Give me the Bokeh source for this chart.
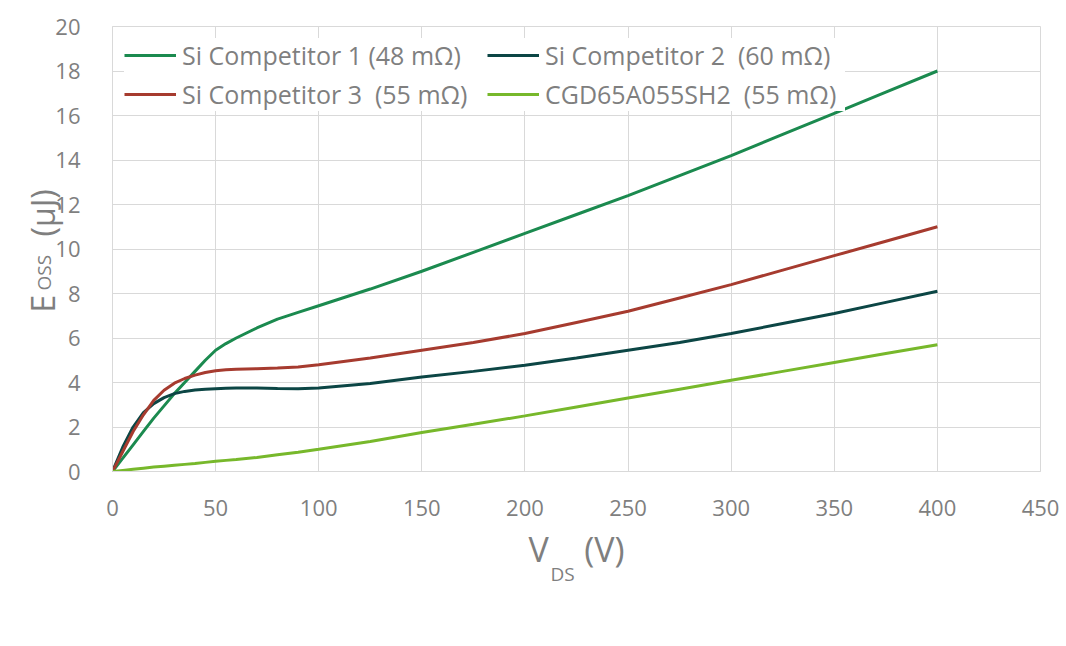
import math
from bokeh.plotting import figure
from bokeh.models import Range1d, Legend, LegendItem, Label, FixedTicker
from bokeh.embed import file_html
from bokeh.resources import INLINE

# ---- data ----
vds = [0, 5, 10, 15, 20, 25, 30, 35, 40, 45, 50, 55, 60, 70, 80, 90, 100,
       125, 150, 175, 200, 225, 250, 275, 300, 325, 350, 375, 400]
si1 = [0, 0.6, 1.2, 1.8, 2.4, 2.95, 3.5, 4.0, 4.5, 5.0, 5.45, 5.75, 6.0, 6.45, 6.85, 7.15, 7.45,
       8.2, 9.0, 9.85, 10.7, 11.55, 12.4, 13.3, 14.2, 15.15, 16.1, 17.05, 18.0]
si2 = [0, 1.1, 2.0, 2.65, 3.05, 3.32, 3.5, 3.6, 3.66, 3.7, 3.72, 3.74, 3.75, 3.75, 3.73, 3.72, 3.75,
       3.95, 4.25, 4.5, 4.78, 5.1, 5.45, 5.8, 6.2, 6.65, 7.1, 7.6, 8.1]
si3 = [0, 0.9, 1.8, 2.55, 3.2, 3.65, 3.97, 4.18, 4.33, 4.45, 4.53, 4.57, 4.6, 4.62, 4.65, 4.7, 4.8,
       5.1, 5.45, 5.8, 6.2, 6.7, 7.2, 7.8, 8.4, 9.05, 9.7, 10.35, 11.0]
cgd = [0, 0.05, 0.1, 0.15, 0.2, 0.24, 0.28, 0.32, 0.36, 0.41, 0.46, 0.5, 0.54, 0.63, 0.75, 0.87, 1.0,
       1.35, 1.75, 2.12, 2.5, 2.9, 3.3, 3.7, 4.1, 4.5, 4.9, 5.3, 5.7]

names = ["Si Competitor 1 (48 mΩ)", "Si Competitor 2  (60 mΩ)",
         "Si Competitor 3  (55 mΩ)", "CGD65A055SH2  (55 mΩ)"]
colors = ["#1b8a4f", "#0c4645", "#a63b2f", "#77b82b"]
series = [si1, si2, si3, cgd]

x_ticks = [0, 50, 100, 150, 200, 250, 300, 350, 400, 450]
y_ticks = [0, 2, 4, 6, 8, 10, 12, 14, 16, 18, 20]

FONT = "Open Sans"
GREY = "#7f7f7f"
GRID = "#d9d9d9"
NB = "\u00a0"

p = figure(width=1066, frame_height=445, output_backend="svg", toolbar_location=None,
           x_range=Range1d(0, 450), y_range=Range1d(0, 20),
           min_border_left=112, min_border_right=21, min_border_top=18, min_border_bottom=175)
p.outline_line_color = GRID
p.background_fill_color = "white"

for ax, ticks in ((p.xaxis[0], x_ticks), (p.yaxis[0], y_ticks)):
    ax.ticker = FixedTicker(ticks=ticks)
    ax.axis_line_color = GRID
    ax.axis_line_width = 1
    ax.major_tick_line_color = None
    ax.minor_tick_line_color = None
    ax.major_label_text_font = FONT
    ax.major_label_text_font_size = "22px"
    ax.major_label_text_color = GREY
p.xaxis.major_label_standoff = 22
p.yaxis.major_label_standoff = 26

# x title (main part; the subscript is a separate label)
p.xaxis.axis_label = "V" + NB * 4 + "(V)"
p.xaxis.axis_label_text_font = FONT
p.xaxis.axis_label_text_font_size = "34px"
p.xaxis.axis_label_text_font_style = "normal"
p.xaxis.axis_label_text_color = GREY
p.xaxis.axis_label_standoff = 7

p.xgrid.grid_line_color = GRID
p.ygrid.grid_line_color = GRID
p.xgrid.ticker = FixedTicker(ticks=x_ticks)
p.ygrid.ticker = FixedTicker(ticks=y_ticks)

renderers = []
for ys, c in zip(series, colors):
    r = p.line(vds, ys, line_color=c, line_width=3)
    renderers.append(r)

order = [0, 2, 1, 3]
items = [LegendItem(label=names[i], renderers=[renderers[i]]) for i in order]
legend = Legend(items=items, ncols=2, location="top_left",
                glyph_width=52, glyph_height=20, label_height=20, label_width=300,
                label_standoff=6, spacing=5, padding=4, margin=12,
                border_line_color=None, background_fill_color="white", background_fill_alpha=1,
                label_text_font=FONT, label_text_font_size="25px",
                label_text_color=GREY)
p.add_layout(legend, "center")

def lab(text, px, py, size, side, angle=0):
    p.add_layout(Label(x=px, y=py, x_units="canvas", y_units="canvas", text=text, text_font=FONT,
                       text_font_size=size, text_color=GREY, angle=angle,
                       text_baseline="alphabetic", text_align="left"), side)

lab("E" + NB * 7 + "(μJ)", 42, 312, "32px", "left", math.pi / 2)
lab("OSS", 43, 290, "19px", "right", math.pi / 2)
lab("DS", 550, 573, "19px", "above")

open("out.html", "w").write(file_html(p, INLINE))
